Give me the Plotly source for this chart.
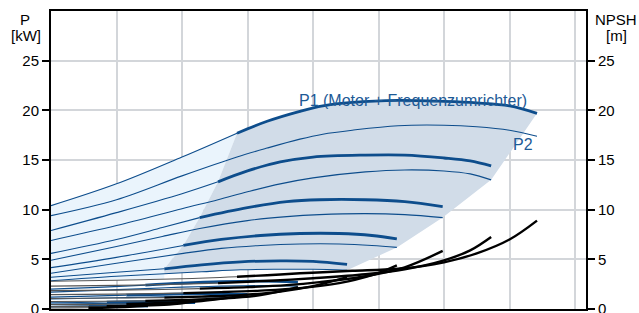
import numpy as np
import plotly.graph_objects as go

# ---------------- data ----------------
# flow axis: grid unit steps (x tick labels are cut off in the reference)
q_1 = [0, 1.0, 2.0, 2.84, 3.3, 3.8, 4.15, 4.6, 5.3, 6.0, 6.5, 7.0, 7.42]
p1_1 = [10.4, 12.6, 15.3, 17.7, 18.9, 19.9, 20.45, 20.8, 21.0, 20.9, 20.75, 20.45, 19.7]
p2_1 = [9.4, 11.0, 13.4, 15.3, 16.2, 17.1, 17.6, 18.0, 18.45, 18.5, 18.35, 18.0, 17.4]
npsh_1 = [2.8, 2.9, 3.05, 3.25, 3.4, 3.6, 3.7, 3.85, 4.05, 4.7, 5.6, 7.0, 8.9]

q_2 = [0, 1.0, 2.0, 2.55, 3.0, 3.5, 4.0, 4.8, 5.4, 6.0, 6.4, 6.72]
p1_2 = [7.9, 9.7, 11.6, 12.8, 13.9, 14.8, 15.3, 15.5, 15.5, 15.2, 14.9, 14.4]
p2_2 = [6.9, 8.4, 10.1, 11.0, 11.8, 12.6, 13.2, 13.8, 14.0, 13.9, 13.6, 13.0]
npsh_2 = [2.3, 2.38, 2.5, 2.6, 2.75, 2.9, 3.1, 3.5, 4.0, 4.9, 5.9, 7.25]

q_3 = [0, 1.0, 1.7, 2.27, 3.0, 3.6, 4.1, 4.8, 5.4, 5.98]
p1_3 = [5.6, 7.0, 8.2, 9.2, 10.2, 10.8, 11.0, 11.0, 10.8, 10.3]
p2_3 = [4.9, 6.3, 7.3, 8.1, 8.9, 9.3, 9.5, 9.6, 9.5, 9.2]
npsh_3 = [1.85, 1.9, 1.97, 2.05, 2.2, 2.4, 2.7, 3.3, 4.2, 5.85]

q_4 = [0, 1.0, 2.02, 2.6, 3.2, 3.8, 4.4, 4.9, 5.28]
p1_4 = [4.16, 5.2, 6.4, 7.0, 7.4, 7.6, 7.6, 7.4, 7.05]
p2_4 = [3.6, 4.6, 5.6, 6.1, 6.4, 6.55, 6.55, 6.4, 6.2]
npsh_4 = [1.45, 1.5, 1.6, 1.7, 1.85, 2.1, 2.6, 3.4, 4.4]

q_5 = [0, 1.0, 1.73, 2.3, 2.9, 3.5, 4.0, 4.52]
p1_5 = [3.2, 3.7, 4.05, 4.45, 4.75, 4.85, 4.8, 4.5]
p2_5 = [2.85, 3.3, 3.55, 3.75, 3.95, 4.0, 4.0, 3.9]
npsh_5 = [1.05, 1.1, 1.15, 1.25, 1.4, 1.75, 2.3, 3.2]

q_6 = [0, 0.8, 1.44, 2.0, 2.6, 3.2, 3.77]
p1_6 = [2.0, 2.2, 2.4, 2.6, 2.75, 2.8, 2.7]
p2_6 = [1.7, 1.9, 2.05, 2.2, 2.3, 2.35, 2.3]
npsh_6 = [0.75, 0.78, 0.82, 0.9, 1.05, 1.4, 2.2]

q_7 = [0, 0.6, 1.15, 1.7, 2.3, 3.0]
p1_7 = [1.2, 1.3, 1.4, 1.48, 1.52, 1.48]
p2_7 = [1.0, 1.08, 1.15, 1.22, 1.25, 1.2]
npsh_7 = [0.45, 0.47, 0.5, 0.6, 0.8, 1.4]

q_8 = [0, 0.45, 0.85, 1.3, 1.8, 2.2]
p1_8 = [0.62, 0.66, 0.7, 0.73, 0.74, 0.72]
p2_8 = [0.48, 0.52, 0.55, 0.57, 0.58, 0.56]
npsh_8 = [0.25, 0.26, 0.28, 0.33, 0.45, 0.75]

q_9 = [0, 0.3, 0.57, 0.9, 1.2, 1.48]
p1_9 = [0.28, 0.3, 0.32, 0.33, 0.33, 0.32]
p2_9 = [0.2, 0.22, 0.23, 0.24, 0.24, 0.23]
npsh_9 = [0.1, 0.11, 0.12, 0.15, 0.22, 0.35]

# start of the allowed operating range (min flow) for each speed
q_min = [2.84, 2.55, 2.27, 2.02, 1.73, 1.44, 1.15, 0.85, 0.57]

y_ticks = [0, 5, 10, 15, 20, 25]
label_p1 = "P1 (Motor + Frequenzumrichter)"
label_p2 = "P2"

# ---------------- styling ----------------
BLUE = "#0d4d8c"
TEXT_BLUE = "#1d5a96"
GRAY_FILL = "#d1dce8"
LIGHT_FILL = "#eaf4fc"
GRID = "#d3d6da"
FONT = "Liberation Sans, Arial, sans-serif"

speeds = [
    (q_1, p1_1, p2_1, npsh_1), (q_2, p1_2, p2_2, npsh_2), (q_3, p1_3, p2_3, npsh_3),
    (q_4, p1_4, p2_4, npsh_4), (q_5, p1_5, p2_5, npsh_5), (q_6, p1_6, p2_6, npsh_6),
    (q_7, p1_7, p2_7, npsh_7), (q_8, p1_8, p2_8, npsh_8), (q_9, p1_9, p2_9, npsh_9),
]

fig = go.Figure()

# ---- light region (outside operating range, left) ----
q1a = np.array(q_1); p1a = np.array(p1_1)
m = q1a <= q_min[0] + 1e-9
lx = list(q1a[m]); ly = list(p1a[m])
for k in range(1, 5):
    qk, pk = speeds[k][0], speeds[k][1]
    lx.append(q_min[k]); ly.append(float(np.interp(q_min[k], qk, pk)))
qb = np.array([v for v in q_1 if v < q_min[4]] + [q_min[4]])
nb = np.interp(qb, q_1, npsh_1)
lx += list(qb[::-1]); ly += list(nb[::-1])
fig.add_trace(go.Scatter(x=lx, y=ly, fill="toself", fillcolor=LIGHT_FILL, mode="none",
                         hoverinfo="skip", showlegend=False))

# ---- gray region (operating range) ----
m = q1a >= q_min[0] - 1e-9
gx = list(q1a[m]); gy = list(p1a[m])
for k in range(1, 5):
    gx.append(speeds[k][0][-1]); gy.append(speeds[k][2][-1])
q5a = np.array(q_5); p25a = np.array(p2_5)
m5 = q5a >= q_min[4] - 1e-9
gx += list(q5a[m5][::-1]); gy += list(p25a[m5][::-1])
for k in range(4, 0, -1):
    qk, pk = speeds[k][0], speeds[k][1]
    gx.append(q_min[k]); gy.append(float(np.interp(q_min[k], qk, pk)))
fig.add_trace(go.Scatter(x=gx, y=gy, fill="toself", fillcolor=GRAY_FILL, mode="none",
                         hoverinfo="skip", showlegend=False))

def seg(q, v, lo, hi):
    qa = np.array(q); va = np.array(v)
    mm = (qa >= lo - 1e-9) & (qa <= hi + 1e-9)
    return qa[mm], va[mm]

# ---- P2 curves (thin) ----
for k, (q, p1, p2, n) in enumerate(speeds):
    fig.add_trace(go.Scatter(x=q, y=p2, mode="lines", line=dict(color=BLUE, width=1.1, shape="spline"),
                             hoverinfo="skip", showlegend=False))
# ---- P1 curves: thin before q_min, thick after ----
for k, (q, p1, p2, n) in enumerate(speeds):
    a, b = seg(q, p1, 0, q_min[k])
    fig.add_trace(go.Scatter(x=a, y=b, mode="lines", line=dict(color=BLUE, width=1.1, shape="spline"),
                             hoverinfo="skip", showlegend=False))
    a, b = seg(q, p1, q_min[k], 99)
    fig.add_trace(go.Scatter(x=a, y=b, mode="lines", line=dict(color=BLUE, width=2.8, shape="spline"),
                             hoverinfo="skip", showlegend=False))
# ---- NPSH curves (right axis) ----
for k, (q, p1, p2, n) in enumerate(speeds):
    a, b = seg(q, n, 0, q_min[k])
    fig.add_trace(go.Scatter(x=a, y=b, mode="lines", yaxis="y2",
                             line=dict(color="#555555", width=1.1, shape="spline"),
                             hoverinfo="skip", showlegend=False))
    a, b = seg(q, n, q_min[k], 99)
    fig.add_trace(go.Scatter(x=a, y=b, mode="lines", yaxis="y2",
                             line=dict(color="#000000", width=2.4, shape="spline"),
                             hoverinfo="skip", showlegend=False))

axis_font = dict(family=FONT, size=15, color="#000")
fig.update_layout(
    width=639, height=313,
    margin=dict(l=51, r=53, t=11, b=4, autoexpand=False),
    paper_bgcolor="white", plot_bgcolor="white",
    font=dict(family=FONT, size=15, color="#000"),
    xaxis=dict(range=[0, 8.168], dtick=1, tick0=0, showgrid=True, gridcolor=GRID, gridwidth=1.5,
               showline=True, linecolor="#000", linewidth=2, mirror=True, automargin=False,
               showticklabels=False, ticks="", zeroline=False),
    yaxis=dict(range=[0, 30], tickvals=y_ticks, showgrid=True, gridcolor=GRID, gridwidth=1.5,
               showline=True, linecolor="#000", linewidth=2, ticks="outside", ticklen=7,
               automargin=False, ticklabeloverflow="allow",
               tickwidth=2, tickcolor="#000", tickfont=axis_font, zeroline=False),
    yaxis2=dict(range=[0, 30], tickvals=y_ticks, overlaying="y", side="right", showgrid=False,
                showline=True, linecolor="#000", linewidth=2, ticks="outside", ticklen=7,
                automargin=False, ticklabeloverflow="allow",
                tickwidth=2, tickcolor="#000", tickfont=axis_font, zeroline=False),
    annotations=[
        dict(text="P", xref="paper", yref="paper", x=-0.0477, y=0.973, showarrow=False,
             xanchor="center", yanchor="middle", font=axis_font),
        dict(text="[kW]", xref="paper", yref="paper", x=-0.0467, y=0.919, showarrow=False,
             xanchor="center", yanchor="middle", font=axis_font),
        dict(text="NPSH", xref="paper", yref="paper", x=1.056, y=0.973, showarrow=False,
             xanchor="center", yanchor="middle", font=axis_font),
        dict(text="[m]", xref="paper", yref="paper", x=1.057, y=0.919, showarrow=False,
             xanchor="center", yanchor="middle", font=axis_font),
        dict(text=label_p1, x=3.76, y=20.95, xref="x", yref="y", showarrow=False,
             xanchor="left", yanchor="middle", font=dict(family=FONT, size=16, color=TEXT_BLUE)),
        dict(text=label_p2, x=7.02, y=16.6, xref="x", yref="y", showarrow=False,
             xanchor="left", yanchor="middle", font=dict(family=FONT, size=16, color=TEXT_BLUE)),
    ],
)

fig.write_html("out.html", config={"displayModeBar": False},
               post_script="document.body.style.margin='0';document.body.style.overflow='hidden';")
